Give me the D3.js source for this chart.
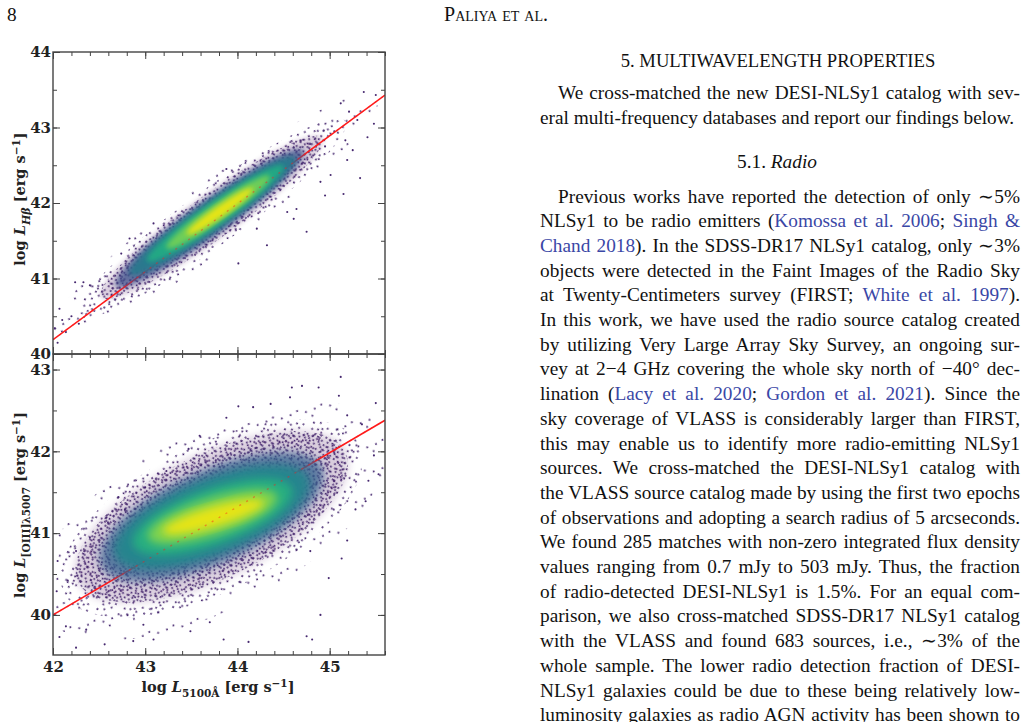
<!DOCTYPE html>
<html>
<head>
<meta charset="utf-8">
<script src="https://cdn.jsdelivr.net/npm/d3@7"></script>
<style>
  body { margin: 0; background: #fff; }
  svg { display: block; }
  .body { font-family: "Liberation Serif", "Times New Roman", serif; font-size: 19.3px; fill: #111; }
  .tick text { font-family: "DejaVu Serif", serif; font-weight: bold; font-size: 15px; fill: #222; }
  .lab { font-family: "DejaVu Serif", serif; font-weight: bold; font-size: 14.5px; fill: #222; }
</style>
</head>
<body>
<svg id="page" width="1029" height="722"></svg>
<script>
// ---------------- data ----------------
var xTicks = [42, 43, 44, 45]
var topYTicks = [40, 41, 42, 43, 44]
var botYTicks = [40, 41, 42, 43]

// best-fit lines, end points at the two panel edges
var fitTopX = [42, 45.6], fitTopY = [40.19, 43.43]
var fitBotX = [42, 45.6], fitBotY = [40.0, 42.38]

// density envelope of the point clouds
// halo: [density step, cx, cy, half length (x units), vertical half width, slope]
var topHalo = [
  [0, 43.72, 41.80, 1.80, 0.55, 0.90],
  [1, 43.72, 41.80, 1.45, 0.45, 0.89],
  [2, 43.72, 41.81, 1.20, 0.36, 0.88]
]
// core: [viridis level, cx, cy, half length, vertical half width, slope]
var topCore = [
  [0.24, 43.70, 41.80, 1.02, 0.29, 0.88],
  [0.40, 43.73, 41.83, 0.90, 0.24, 0.86],
  [0.60, 43.76, 41.86, 0.74, 0.19, 0.85],
  [0.78, 43.79, 41.88, 0.56, 0.14, 0.85],
  [0.96, 43.81, 41.89, 0.36, 0.09, 0.85]
]
var botHalo = [
  [0, 43.72, 41.15, 1.85, 1.22, 0.60],
  [1, 43.72, 41.18, 1.60, 1.00, 0.57],
  [2, 43.72, 41.20, 1.45, 0.84, 0.55]
]
var botCore = [
  [0.30, 43.72, 41.20, 1.20, 0.62, 0.50],
  [0.45, 43.72, 41.20, 1.05, 0.50, 0.45],
  [0.62, 43.73, 41.20, 0.86, 0.36, 0.40],
  [0.80, 43.73, 41.20, 0.70, 0.24, 0.36],
  [0.96, 43.74, 41.20, 0.55, 0.13, 0.33]
]

// isolated sources outside the main envelope
var topOutliers = [
  [45.37, 43.47], [45.50, 43.43], [45.12, 43.32], [45.21, 43.21], [45.48, 43.05],
  [45.41, 42.87], [45.17, 42.83], [45.01, 42.37], [45.33, 42.33], [45.19, 42.57],
  [45.15, 42.12], [44.95, 42.10], [44.75, 41.62], [44.01, 41.20], [44.32, 41.44],
  [43.88, 42.45], [43.09, 41.73], [42.83, 41.53], [42.74, 41.33], [42.24, 40.95],
  [42.33, 40.95], [42.07, 40.60], [42.02, 40.34], [42.14, 40.29], [42.40, 40.91],
  [44.90, 42.28], [44.64, 41.92], [44.61, 41.79], [44.54, 41.88], [44.21, 41.66],
  [42.05, 40.15], [42.10, 40.45], [42.20, 40.50], [42.28, 40.40], [45.30, 43.10],
  [45.05, 42.95], [44.95, 42.75], [45.25, 42.70]
]
var botOutliers = [
  [45.12, 42.91], [44.70, 42.80], [44.59, 42.78], [44.88, 42.78], [45.50, 42.59],
  [45.10, 42.68], [44.01, 42.55], [44.17, 42.54], [45.35, 42.33], [45.48, 41.95],
  [45.53, 41.72], [45.39, 41.39], [45.28, 41.29], [45.13, 40.69], [44.99, 40.45],
  [44.90, 40.00], [44.81, 39.70], [44.75, 39.74], [44.12, 39.67], [43.85, 39.70],
  [43.70, 39.91], [43.49, 39.80], [43.09, 39.70], [42.98, 39.88], [42.87, 39.68],
  [42.56, 39.64], [42.36, 39.82], [42.25, 39.60], [42.07, 39.73], [42.14, 39.86],
  [42.04, 40.29], [42.05, 40.66], [42.16, 40.42], [42.25, 40.78], [42.40, 40.95],
  [42.58, 41.19], [42.71, 41.44], [43.00, 41.56], [42.78, 41.29], [43.23, 41.76],
  [43.47, 42.03], [43.59, 42.19], [43.88, 42.41], [44.36, 42.58], [44.57, 42.66],
  [45.19, 42.44], [45.42, 41.64], [45.19, 40.91], [44.79, 40.78]
]

// ---------------- page text ----------------
var headerNum = "8"
var headerRunning = "Paliya et al."
var sectionTitle = "5. MULTIWAVELENGTH PROPERTIES"
var introLines = [
  "We cross-matched the new DESI-NLSy1 catalog with sev-",
  "eral multi-frequency databases and report our findings below."
]
var subNum = "5.1. ", subName = "Radio"
var radioLines = [
  "Previous works have reported the detection of only \u223C5%",
  "NLSy1 to be radio emitters ({Komossa et al. 2006}; {Singh &}",
  "{Chand 2018}). In the SDSS-DR17 NLSy1 catalog, only \u223C3%",
  "objects were detected in the Faint Images of the Radio Sky",
  "at Twenty-Centimeters survey (FIRST; {White et al. 1997}).",
  "In this work, we have used the radio source catalog created",
  "by utilizing Very Large Array Sky Survey, an ongoing sur-",
  "vey at 2\u22124 GHz covering the whole sky north of \u221240\u00B0 dec-",
  "lination ({Lacy et al. 2020}; {Gordon et al. 2021}). Since the",
  "sky coverage of VLASS is considerably larger than FIRST,",
  "this may enable us to identify more radio-emitting NLSy1",
  "sources. We cross-matched the DESI-NLSy1 catalog with",
  "the VLASS source catalog made by using the first two epochs",
  "of observations and adopting a search radius of 5 arcseconds.",
  "We found 285 matches with non-zero integrated flux density",
  "values ranging from 0.7 mJy to 503 mJy. Thus, the fraction",
  "of radio-detected DESI-NLSy1 is 1.5%. For an equal com-",
  "parison, we also cross-matched SDSS-DR17 NLSy1 catalog",
  "with the VLASS and found 683 sources, i.e., \u223C3% of the",
  "whole sample. The lower radio detection fraction of DESI-",
  "NLSy1 galaxies could be due to these being relatively low-",
  "luminosity galaxies as radio AGN activity has been shown to"
]

// ---------------- styling ----------------
var linkColor = "#3a47a6"
var dotColor = "#46286f"
var frameColor = "#444"
// dot texture used for the outer halo (one 24px tile)
var TEX = [[2,3],[9,1],[17,4],[22,9],[5,9],[13,8],[19,14],[1,16],[8,13],[14,19],[21,21],[4,22],[10,20],[16,11],[12,2],[23,16]]
var texSteps = [ {n: 4, tile: 25, rot: 13}, {n: 9, tile: 21, rot: -31}, {n: 16, tile: 16, rot: 52} ]

var svg = d3.select("#page")
var defs = svg.append("defs")

texSteps.forEach(function (s, i) {
  var p = defs.append("pattern")
      .attr("id", "tex" + i)
      .attr("patternUnits", "userSpaceOnUse")
      .attr("width", s.tile).attr("height", s.tile)
      .attr("patternTransform", "rotate(" + s.rot + ")")
  TEX.slice(0, s.n).forEach(function (d) {
    p.append("circle")
      .attr("cx", d[0] * s.tile / 24).attr("cy", d[1] * s.tile / 24)
      .attr("r", 1.0).attr("fill", dotColor)
  })
})

function addBlur(id, sd) {
  defs.append("filter").attr("id", id)
    .attr("x", "-25%").attr("y", "-25%").attr("width", "150%").attr("height", "150%")
    .append("feGaussianBlur").attr("stdDeviation", sd)
}
addBlur("softtop", 2.6)
addBlur("softbot", 4.2)

// ---------------- panels ----------------
var left = 53, right = 385
var x = d3.scaleLinear().domain([42, 45.6]).range([left, right])
var yTop = d3.scaleLinear().domain([40, 44]).range([354, 52])
var yBot = d3.scaleLinear().domain([39.51, 43.19]).range([655, 354])

function ellipse(g, y, row) {
  var cx = row[1], cy = row[2], a = row[3], b = row[4], m = row[5]
  var kx = x(1) - x(0), ky = y(0) - y(1)
  var dx = a * kx, dy = m * a * ky
  var th = Math.atan2(dy, dx)
  return g.append("ellipse")
    .attr("cx", x(cx)).attr("cy", y(cy))
    .attr("rx", Math.hypot(dx, dy))
    .attr("ry", b * ky * Math.cos(th))
    .attr("transform", "rotate(" + (-th * 180 / Math.PI) + "," + x(cx) + "," + y(cy) + ")")
}

function panel(id, y, halo, core, outliers, fitX, fitY) {
  var r = y.range()
  var soft = "url(#soft" + id + ")"
  defs.append("clipPath").attr("id", "clip" + id)
    .append("rect").attr("x", left).attr("y", r[1]).attr("width", right - left).attr("height", r[0] - r[1])

  var g = svg.append("g").attr("clip-path", "url(#clip" + id + ")")

  halo.forEach(function (row) {
    if (row[0] == 2) {
      ellipse(g, y, row).attr("fill", d3.interpolateViridis(0.02))
        .attr("opacity", 0.2).attr("filter", soft)
    }
    ellipse(g, y, row).attr("fill", "url(#tex" + row[0] + ")")
  })

  g.selectAll(".out")
    .data(outliers)
    .enter()
    .append("circle")
      .attr("cx", d => x(d[0]))
      .attr("cy", d => y(d[1]))
      .attr("r", 1.05)
      .attr("fill", dotColor)

  var fit = d3.line().x(d => x(d[0])).y(d => y(d[1]))
  var fitPts = d3.zip(fitX, fitY)
  g.append("path").attr("d", fit(fitPts))
    .attr("stroke", "#ff1a1a").attr("stroke-width", 1.6).attr("fill", "none")

  core.forEach(function (row, i) {
    ellipse(g, y, row).attr("fill", d3.interpolateViridis(row[0]))
      .attr("opacity", i == 0 ? 0.75 : 1)
      .attr("filter", soft)
  })

  // the fit shows faintly through the dense core
  g.append("path").attr("d", fit(fitPts))
    .attr("stroke", "#ff1a1a").attr("stroke-width", 1.3).attr("fill", "none")
    .attr("stroke-dasharray", "2,6").attr("opacity", 0.45)

  return g
}

panel("top", yTop, topHalo, topCore, topOutliers, fitTopX, fitTopY)
panel("bot", yBot, botHalo, botCore, botOutliers, fitBotX, fitBotY)

// ---------------- axes ----------------
var xMinor = d3.range(210, 229).map(v => v / 5)

function styleAxis(a) {
  a.select(".domain").remove()
  a.selectAll(".tick line").attr("stroke", frameColor).attr("stroke-width", 1)
  a.attr("font-family", null).attr("font-size", null)
}

function axes(y, yMajor, showX) {
  var r = y.range()
  var d = y.domain()
  var yMinor = d3.range(Math.ceil(d[0] * 2), Math.floor(d[1] * 2) + 1).map(v => v / 2)

  svg.append("g").attr("transform", "translate(0," + r[0] + ")")
    .call(d3.axisBottom(x).tickValues(xTicks).tickSizeInner(-7).tickSizeOuter(0).tickPadding(6)
      .tickFormat(showX ? d3.format("d") : ""))
    .call(styleAxis)
  svg.append("g").attr("transform", "translate(0," + r[0] + ")")
    .call(d3.axisBottom(x).tickValues(xMinor).tickSizeInner(-4).tickSizeOuter(0).tickFormat(""))
    .call(styleAxis)
  svg.append("g").attr("transform", "translate(0," + r[1] + ")")
    .call(d3.axisTop(x).tickValues(xTicks).tickSizeInner(-7).tickSizeOuter(0).tickFormat(""))
    .call(styleAxis)
  svg.append("g").attr("transform", "translate(0," + r[1] + ")")
    .call(d3.axisTop(x).tickValues(xMinor).tickSizeInner(-4).tickSizeOuter(0).tickFormat(""))
    .call(styleAxis)

  svg.append("g").attr("transform", "translate(" + left + ",0)")
    .call(d3.axisLeft(y).tickValues(yMajor).tickSizeInner(-7).tickSizeOuter(0).tickPadding(2)
      .tickFormat(d3.format("d")))
    .call(styleAxis)
  svg.append("g").attr("transform", "translate(" + left + ",0)")
    .call(d3.axisLeft(y).tickValues(yMinor).tickSizeInner(-4).tickSizeOuter(0).tickFormat(""))
    .call(styleAxis)
  svg.append("g").attr("transform", "translate(" + right + ",0)")
    .call(d3.axisRight(y).tickValues(yMajor).tickSizeInner(-7).tickSizeOuter(0).tickFormat(""))
    .call(styleAxis)
  svg.append("g").attr("transform", "translate(" + right + ",0)")
    .call(d3.axisRight(y).tickValues(yMinor).tickSizeInner(-4).tickSizeOuter(0).tickFormat(""))
    .call(styleAxis)

  svg.append("rect")
    .attr("x", left).attr("y", r[1]).attr("width", right - left).attr("height", r[0] - r[1])
    .attr("fill", "none").attr("stroke", frameColor).attr("stroke-width", 1.4)
}

axes(yTop, topYTicks, false)
axes(yBot, botYTicks, true)

// axis titles: "log L_sub [erg s^-1]"
function axisTitle(tx, ty, rot, sub) {
  var t = svg.append("text").attr("class", "lab")
    .attr("text-anchor", "middle")
    .attr("transform", "translate(" + tx + "," + ty + ") rotate(" + rot + ")")
  t.append("tspan").text("log ")
  t.append("tspan").attr("font-style", "italic").text("L")
  sub(t)
  t.append("tspan").attr("dy", -4.5).text(" [erg s")
  t.append("tspan").attr("font-size", "10.5px").attr("dy", -5.5).text("\u22121")
  t.append("tspan").attr("dy", 5.5).text("]")
}

axisTitle(25, 199, -90, function (t) {
  t.append("tspan").attr("font-size", "11px").attr("font-style", "italic").attr("dy", 4.5).text("H\u03B2")
})
axisTitle(25, 505, -90, function (t) {
  t.append("tspan").attr("font-size", "10.5px").attr("dy", 4.5).text("[OIII]\u03BB5007")
})
axisTitle(218, 692, 0, function (t) {
  t.append("tspan").attr("font-size", "10.5px").attr("dy", 4.5).text("5100\u00C5")
})

// ---------------- running head and text column ----------------
svg.append("text").attr("class", "body").attr("x", 7).attr("y", 21).text(headerNum)
svg.append("text").attr("class", "body").attr("x", 496).attr("y", 21)
  .attr("text-anchor", "middle").style("font-variant", "small-caps").style("font-size", "20px")
  .text(headerRunning)

var colLeft = 540, colRight = 1020, indent = 18, lead = 24.7

svg.append("text").attr("class", "body").attr("x", (colLeft + colRight) / 2 - 2).attr("y", 66.5)
  .attr("text-anchor", "middle").style("font-size", "18.6px").text(sectionTitle)

function addLine(str, x0, yb, justify) {
  var t = svg.append("text").attr("class", "body").attr("x", x0).attr("y", yb)
  str.split(/(\{[^}]*\})/).forEach(function (part) {
    if (!part) return
    if (part[0] == "{") t.append("tspan").attr("fill", linkColor).text(part.slice(1, -1))
    else t.append("tspan").text(part)
  })
  if (justify) {
    var w = t.node().getComputedTextLength()
    var n = (str.match(/ /g) || []).length
    if (n) t.style("word-spacing", ((colRight - x0 - w) / n) + "px")
  }
}

introLines.forEach(function (s, i) {
  addLine(s, i == 0 ? colLeft + indent : colLeft, 99 + i * lead, i < introLines.length - 1)
})

var sub = svg.append("text").attr("class", "body").attr("x", (colLeft + colRight) / 2 - 3).attr("y", 168)
  .attr("text-anchor", "middle")
sub.append("tspan").text(subNum)
sub.append("tspan").attr("font-style", "italic").text(subName)

radioLines.forEach(function (s, i) {
  addLine(s, i == 0 ? colLeft + indent : colLeft, 202.5 + i * lead, true)
})
</script>
</body>
</html>
